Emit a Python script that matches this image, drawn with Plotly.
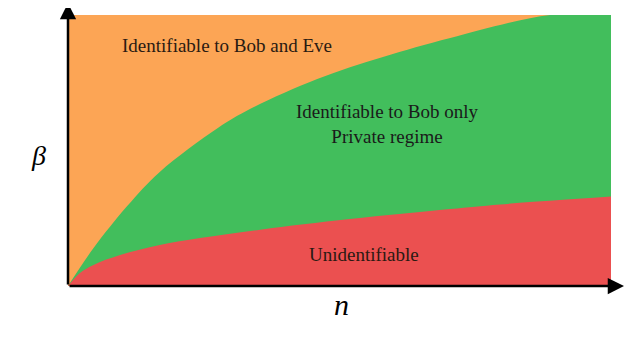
import plotly.graph_objects as go

# Upper boundary (top of the "Bob only" region)
n_upper = [0.0, 0.046, 0.109, 0.169, 0.276, 0.335, 0.459, 0.580, 0.704, 0.888, 1.0]
beta_upper = [0.0, 0.137, 0.295, 0.421, 0.583, 0.653, 0.764, 0.845, 0.915, 1.0, 1.0]

# Lower boundary (top of the "Unidentifiable" region)
n_lower = [0.0, 0.022, 0.046, 0.096, 0.169, 0.243, 0.354, 0.519, 0.704, 0.796, 1.0]
beta_lower = [0.0, 0.048, 0.077, 0.114, 0.151, 0.177, 0.208, 0.247, 0.284, 0.301, 0.330]

n_full = [0.0, 1.0]
beta_full = [1.0, 1.0]

region_labels = ["Identifiable to Bob and Eve", "Identifiable to Bob only<br>Private regime", "Unidentifiable"]

ORANGE = "#FCA555"
GREEN = "#42BE5C"
RED = "#EB5050"

fig = go.Figure()
fig.add_trace(go.Scatter(x=n_full, y=beta_full, mode="lines", line=dict(width=0, color=ORANGE),
                         fill="tozeroy", fillcolor=ORANGE, hoverinfo="skip"))
fig.add_trace(go.Scatter(x=n_upper, y=beta_upper, mode="lines", line=dict(width=0, color=GREEN, shape="spline"),
                         fill="tozeroy", fillcolor=GREEN, hoverinfo="skip"))
fig.add_trace(go.Scatter(x=n_lower, y=beta_lower, mode="lines", line=dict(width=0, color=RED, shape="spline"),
                         fill="tozeroy", fillcolor=RED, hoverinfo="skip"))

serif = "Liberation Serif"
txt = "#2a1a12"
fig.add_annotation(x=0.293, y=0.886, text=region_labels[0], showarrow=False,
                   font=dict(family=serif, size=19, color=txt))
fig.add_annotation(x=0.589, y=0.596, text=region_labels[1], showarrow=False,
                   font=dict(family=serif, size=19, color="#1a1a1a"))
fig.add_annotation(x=0.545, y=0.118, text=region_labels[2], showarrow=False,
                   font=dict(family=serif, size=19, color=txt))

# axes arrows
fig.add_annotation(x=0, y=1.044, ax=0, ay=0, axref="x", ayref="y", xref="x", yref="y",
                   text="", showarrow=True, arrowhead=2, arrowsize=1.3, arrowwidth=2.5, arrowcolor="black")
fig.add_annotation(x=1.024, y=0, ax=0, ay=0, axref="x", ayref="y", xref="x", yref="y",
                   text="", showarrow=True, arrowhead=2, arrowsize=1.3, arrowwidth=2.5, arrowcolor="black")

# axis titles
fig.add_annotation(x=-0.055, y=0.483, text="<i>β</i>", showarrow=False, xref="paper", yref="paper",
                   xanchor="center", yanchor="middle",
                   font=dict(family=serif, size=28, color="black"))
fig.add_annotation(x=0.503, y=-0.07, text="<i>n</i>", showarrow=False, xref="paper", yref="paper",
                   xanchor="center", yanchor="middle",
                   font=dict(family=serif, size=30, color="black"))

fig.update_xaxes(range=[0, 1], visible=False)
fig.update_yaxes(range=[0, 1], visible=False)
fig.update_layout(width=632, height=340, margin=dict(l=60, r=29, t=7, b=62, autoexpand=False),
                  paper_bgcolor="white", plot_bgcolor="white", showlegend=False)

fig.write_html("out.html")
